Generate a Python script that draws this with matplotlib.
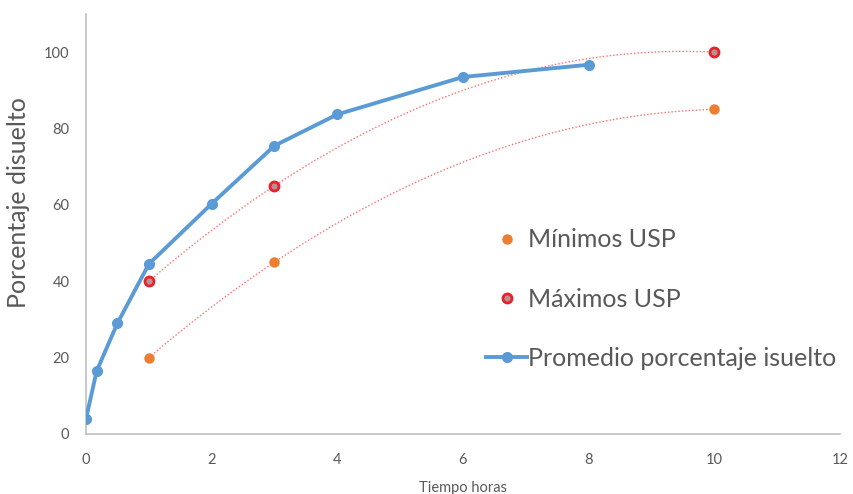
import numpy as np
import matplotlib.pyplot as plt

plt.rcParams['font.family'] = ['Lato', 'DejaVu Sans']

# promedio porcentaje disuelto
tiempo = [0, 0.17, 0.5, 1, 2, 3, 4, 6, 8]
promedio = [4, 16.5, 29, 44.5, 60.3, 75.5, 83.7, 93.5, 96.7]

# limites USP
tiempo_usp = [1, 3, 10]
minimos = [20, 45, 85]
maximos = [40, 65, 100]

gris = '#595959'

fig = plt.figure(figsize=(8.54, 4.94), dpi=100)
ax = fig.add_axes([0.1007, 0.1215, 0.8829, 0.8502])

# lineas de tendencia polinomicas (orden 2), como en Excel
xs = np.linspace(1, 10, 200)
for ys in (minimos, maximos):
    coef = np.polyfit(tiempo_usp, ys, 2)
    ax.plot(xs, np.polyval(coef, xs), linestyle=(0, (1, 1.5)), color='#ff3030',
            linewidth=1.0, alpha=0.7, zorder=1)

ax.plot(tiempo_usp, minimos, 'o', color='#ED7D31', markersize=6.5,
        label='Mínimos USP', zorder=3)
ax.plot(tiempo_usp, maximos, 'o', markerfacecolor='#b89090', markeredgecolor='#e8202a',
        markeredgewidth=2, markersize=6.5, label='Máximos USP', zorder=3)
ax.plot(tiempo, promedio, '-o', color='#5B9BD5', linewidth=2.8, markersize=7,
        label='Promedio porcentaje isuelto', zorder=4)

ax.set_xlim(0, 12)
ax.set_ylim(0, 110)
ax.set_xticks(range(0, 13, 2))
ax.set_yticks(range(0, 101, 20))

for s in ('top', 'right'):
    ax.spines[s].set_visible(False)
for s in ('left', 'bottom'):
    ax.spines[s].set_color('#bfbfbf')
    ax.spines[s].set_linewidth(1.2)
ax.tick_params(length=0, labelsize=10.5, labelcolor=gris)
ax.tick_params(axis='y', pad=12)
ax.tick_params(axis='x', pad=14)

ax.set_ylabel('Porcentaje disuelto', fontsize=18, color=gris)
ax.yaxis.set_label_coords(-0.074, 0.552)
ax.set_xlabel('Tiempo horas', fontsize=10.5, color=gris, labelpad=10)

leg = ax.legend(loc='center left', bbox_to_anchor=(0.5305, 0.321), frameon=False,
                fontsize=18, labelspacing=1.45, handlelength=1.65, handletextpad=0.05,
                borderpad=0, borderaxespad=0)
for t in leg.get_texts():
    t.set_color(gris)

fig.savefig('out.png', dpi=100)
